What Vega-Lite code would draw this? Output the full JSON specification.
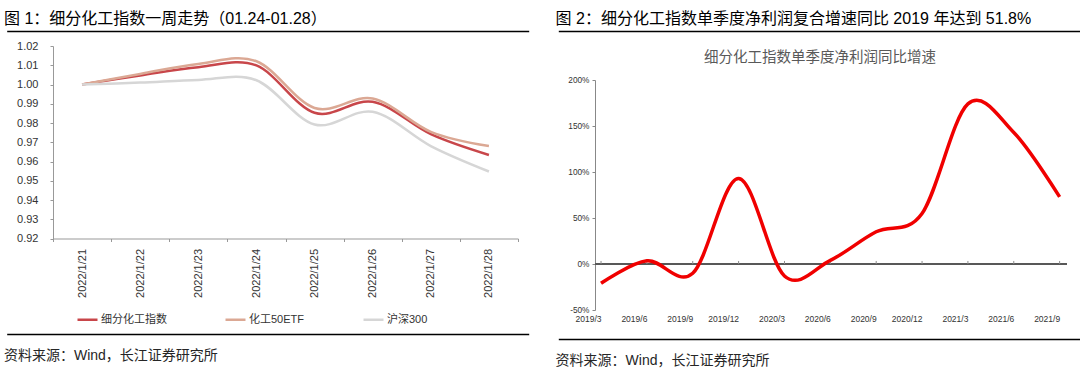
{
  "$schema": "https://vega.github.io/schema/vega-lite/v6.json",
  "padding": {"left": 3, "top": 10, "right": 0, "bottom": 0},
  "background": "white",
  "config": {
    "font": "Liberation Sans, Noto Sans CJK SC",
    "view": {"stroke": null},
    "title": {"fontWeight": "normal"}
  },
  "datasets": {
    "weekly": [
      {"date": "2022/1/21", "series": "细分化工指数", "value": 1.0},
      {"date": "2022/1/22", "series": "细分化工指数", "value": 1.0047},
      {"date": "2022/1/23", "series": "细分化工指数", "value": 1.009},
      {"date": "2022/1/24", "series": "细分化工指数", "value": 1.0099},
      {"date": "2022/1/25", "series": "细分化工指数", "value": 0.9853},
      {"date": "2022/1/26", "series": "细分化工指数", "value": 0.991},
      {"date": "2022/1/27", "series": "细分化工指数", "value": 0.9742},
      {"date": "2022/1/28", "series": "细分化工指数", "value": 0.9634},
      {"date": "2022/1/21", "series": "化工50ETF", "value": 1.0},
      {"date": "2022/1/22", "series": "化工50ETF", "value": 1.0055},
      {"date": "2022/1/23", "series": "化工50ETF", "value": 1.0107},
      {"date": "2022/1/24", "series": "化工50ETF", "value": 1.0121},
      {"date": "2022/1/25", "series": "化工50ETF", "value": 0.9878},
      {"date": "2022/1/26", "series": "化工50ETF", "value": 0.9927},
      {"date": "2022/1/27", "series": "化工50ETF", "value": 0.9754},
      {"date": "2022/1/28", "series": "化工50ETF", "value": 0.968},
      {"date": "2022/1/21", "series": "沪深300", "value": 1.0},
      {"date": "2022/1/22", "series": "沪深300", "value": 1.001},
      {"date": "2022/1/23", "series": "沪深300", "value": 1.0024},
      {"date": "2022/1/24", "series": "沪深300", "value": 1.0022},
      {"date": "2022/1/25", "series": "沪深300", "value": 0.9792},
      {"date": "2022/1/26", "series": "沪深300", "value": 0.9858},
      {"date": "2022/1/27", "series": "沪深300", "value": 0.968},
      {"date": "2022/1/28", "series": "沪深300", "value": 0.9548}
    ],
    "quarterly": [
      {"quarter": "2019/3", "growth": -21},
      {"quarter": "2019/6", "growth": 3.5},
      {"quarter": "2019/9", "growth": -10},
      {"quarter": "2019/12", "growth": 93},
      {"quarter": "2020/3", "growth": -13},
      {"quarter": "2020/6", "growth": 4},
      {"quarter": "2020/9", "growth": 35},
      {"quarter": "2020/12", "growth": 55},
      {"quarter": "2021/3", "growth": 174},
      {"quarter": "2021/6", "growth": 143},
      {"quarter": "2021/9", "growth": 73}
    ],
    "lineT1": [{"t1": 0}],
    "lineB1": [{"b1": 0}],
    "lineT2": [{"t2": 0}],
    "lineB2": [{"b2": 0}]
  },
  "spacing": -20,
  "align": "none",
  "resolve": {"legend": {"color": "independent"}, "scale": {"x": "independent", "y": "independent"}, "axis": {"x": "independent", "y": "independent"}},
  "hconcat": [
    {
      "title": {"text": "图 1：细分化工指数一周走势（01.24-01.28）", "anchor": "start", "frame": "bounds", "fontSize": 16, "color": "#000000", "offset": 2},
      "spacing": 6,
      "align": "none",
      "resolve": {"legend": {"color": "independent"}, "scale": {"x": "independent", "y": "independent"}, "axis": {"x": "independent", "y": "independent"}},
      "vconcat": [
        {
          "width": 475.7, "height": 0.5,
          "data": {"name": "lineT1"},
          "mark": {"type": "point", "opacity": 0},
          "encoding": {"x": {"field": "t1", "type": "quantitative", "scale": {"domain": [0, 1], "range": [-46.3, 475.7]}, "axis": {"orient": "top", "domain": true, "domainColor": "#000000", "domainWidth": 1.5, "ticks": false, "labels": false, "grid": false, "title": null}}}
        },
        {
          "width": 465,
          "height": 192.5,
          "data": {"name": "weekly"},
          "mark": {"type": "line", "interpolate": "cardinal", "strokeWidth": 2.5},
          "encoding": {
            "x": {
              "field": "date", "type": "ordinal", "sort": null,
              "scale": {"type": "band", "paddingInner": 0, "paddingOuter": 0},
              "axis": {"title": null, "labelAngle": -90, "labelFontSize": 11, "labelColor": "#333333", "tickSize": 3, "tickBand": "extent", "domainColor": "#999999", "tickColor": "#999999", "labelPadding": 7}
            },
            "y": {
              "field": "value", "type": "quantitative",
              "scale": {"domain": [0.92, 1.02], "zero": false, "nice": false},
              "axis": {"title": null, "values": [0.92, 0.93, 0.94, 0.95, 0.96, 0.97, 0.98, 0.99, 1.0, 1.01, 1.02], "format": ".2f", "grid": false, "labelFontSize": 11, "labelColor": "#333333", "tickSize": 3, "labelPadding": 12, "minExtent": 46.3, "domainColor": "#999999", "tickColor": "#999999"}
            },
            "color": {
              "field": "series", "type": "nominal",
              "sort": ["细分化工指数", "化工50ETF", "沪深300"],
              "scale": {"domain": ["细分化工指数", "化工50ETF", "沪深300"], "range": ["#C8464A", "#DBA894", "#D6D6D6"]},
              "legend": {"title": null, "orient": "none", "legendX": 23, "legendY": 262, "direction": "horizontal", "symbolType": "stroke", "symbolSize": 400, "symbolStrokeWidth": 2.5, "labelFontSize": 11, "labelColor": "#333333", "columnPadding": 53, "labelOffset": 2}
            }
          }
        },
        {
          "width": 475.7, "height": 0.5,
          "title": {"text": "资料来源：Wind，长江证券研究所", "orient": "bottom", "anchor": "start", "frame": "bounds", "fontSize": 14, "color": "#262626", "offset": 12},
          "data": {"name": "lineB1"},
          "mark": {"type": "point", "opacity": 0},
          "encoding": {"x": {"field": "b1", "type": "quantitative", "scale": {"domain": [0, 1], "range": [-46.3, 475.7]}, "axis": {"orient": "top", "domain": true, "domainColor": "#000000", "domainWidth": 1.5, "ticks": false, "labels": false, "grid": false, "title": null}}}
        }
      ]
    },
    {
      "title": {"text": "图 2：细分化工指数单季度净利润复合增速同比 2019 年达到 51.8%", "anchor": "start", "frame": "bounds", "fontSize": 16, "color": "#000000", "offset": 2},
      "spacing": 15,
      "align": "none",
      "resolve": {"scale": {"x": "independent", "y": "independent"}, "axis": {"x": "independent", "y": "independent"}},
      "vconcat": [
        {
          "width": 487.3, "height": 0.5,
          "data": {"name": "lineT2"},
          "mark": {"type": "point", "opacity": 0},
          "encoding": {"x": {"field": "t2", "type": "quantitative", "scale": {"domain": [0, 1], "range": [-36.7, 487.3]}, "axis": {"orient": "top", "domain": true, "domainColor": "#000000", "domainWidth": 1.5, "ticks": false, "labels": false, "grid": false, "title": null}}}
        },
        {
          "spacing": 13,
          "align": "none",
          "resolve": {"scale": {"x": "independent", "y": "independent"}, "axis": {"x": "independent", "y": "independent"}},
          "vconcat": [
            {
              "width": 472,
              "height": 230,
              "title": {"text": "细分化工指数单季度净利润同比增速", "fontSize": 14.5, "color": "#595959", "anchor": "middle", "frame": "bounds", "offset": 10, "dx": 7},
              "data": {"name": "quarterly"},
              "layer": [
                {
                  "mark": {"type": "rule", "color": "#595959", "strokeWidth": 1},
                  "encoding": {"y": {"datum": 0, "type": "quantitative"}}
                },
                {
                  "mark": {"type": "rule", "color": "#8C8C8C", "strokeWidth": 1},
                  "encoding": {
                    "x": {"field": "quarter", "type": "ordinal", "sort": null},
                    "y": {"datum": 0, "type": "quantitative"},
                    "y2": {"datum": 3.3}
                  }
                },
                {
                  "mark": {"type": "line", "interpolate": "cardinal", "color": "#F00000", "strokeWidth": 3.5},
                  "encoding": {
                    "x": {
                      "field": "quarter", "type": "ordinal", "sort": null,
                      "scale": {"type": "point", "padding": 0.146, "align": 0.45},
                      "axis": {"title": null, "labelAngle": 0, "labelFontSize": 8.5, "labelColor": "#333333", "domain": false, "ticks": false, "labelPadding": 8}
                    },
                    "y": {
                      "field": "growth", "type": "quantitative",
                      "scale": {"domain": [-50, 200], "nice": false},
                      "axis": {"title": null, "values": [-50, 0, 50, 100, 150, 200], "labelExpr": "datum.value + '%'", "grid": false, "labelFontSize": 8.3, "labelColor": "#333333", "tickSize": 3, "labelPadding": 3, "minExtent": 36.7, "domainColor": "#888888", "tickColor": "#888888"}
                    }
                  }
                }
              ]
            },
            {
              "width": 487.3, "height": 0.5,
              "title": {"text": "资料来源：Wind，长江证券研究所", "orient": "bottom", "anchor": "start", "frame": "bounds", "fontSize": 14, "color": "#262626", "offset": 12},
              "data": {"name": "lineB2"},
              "mark": {"type": "point", "opacity": 0},
              "encoding": {"x": {"field": "b2", "type": "quantitative", "scale": {"domain": [0, 1], "range": [-36.7, 487.3]}, "axis": {"orient": "top", "domain": true, "domainColor": "#000000", "domainWidth": 1.5, "ticks": false, "labels": false, "grid": false, "title": null}}}
            }
          ]
        }
      ]
    }
  ]
}
